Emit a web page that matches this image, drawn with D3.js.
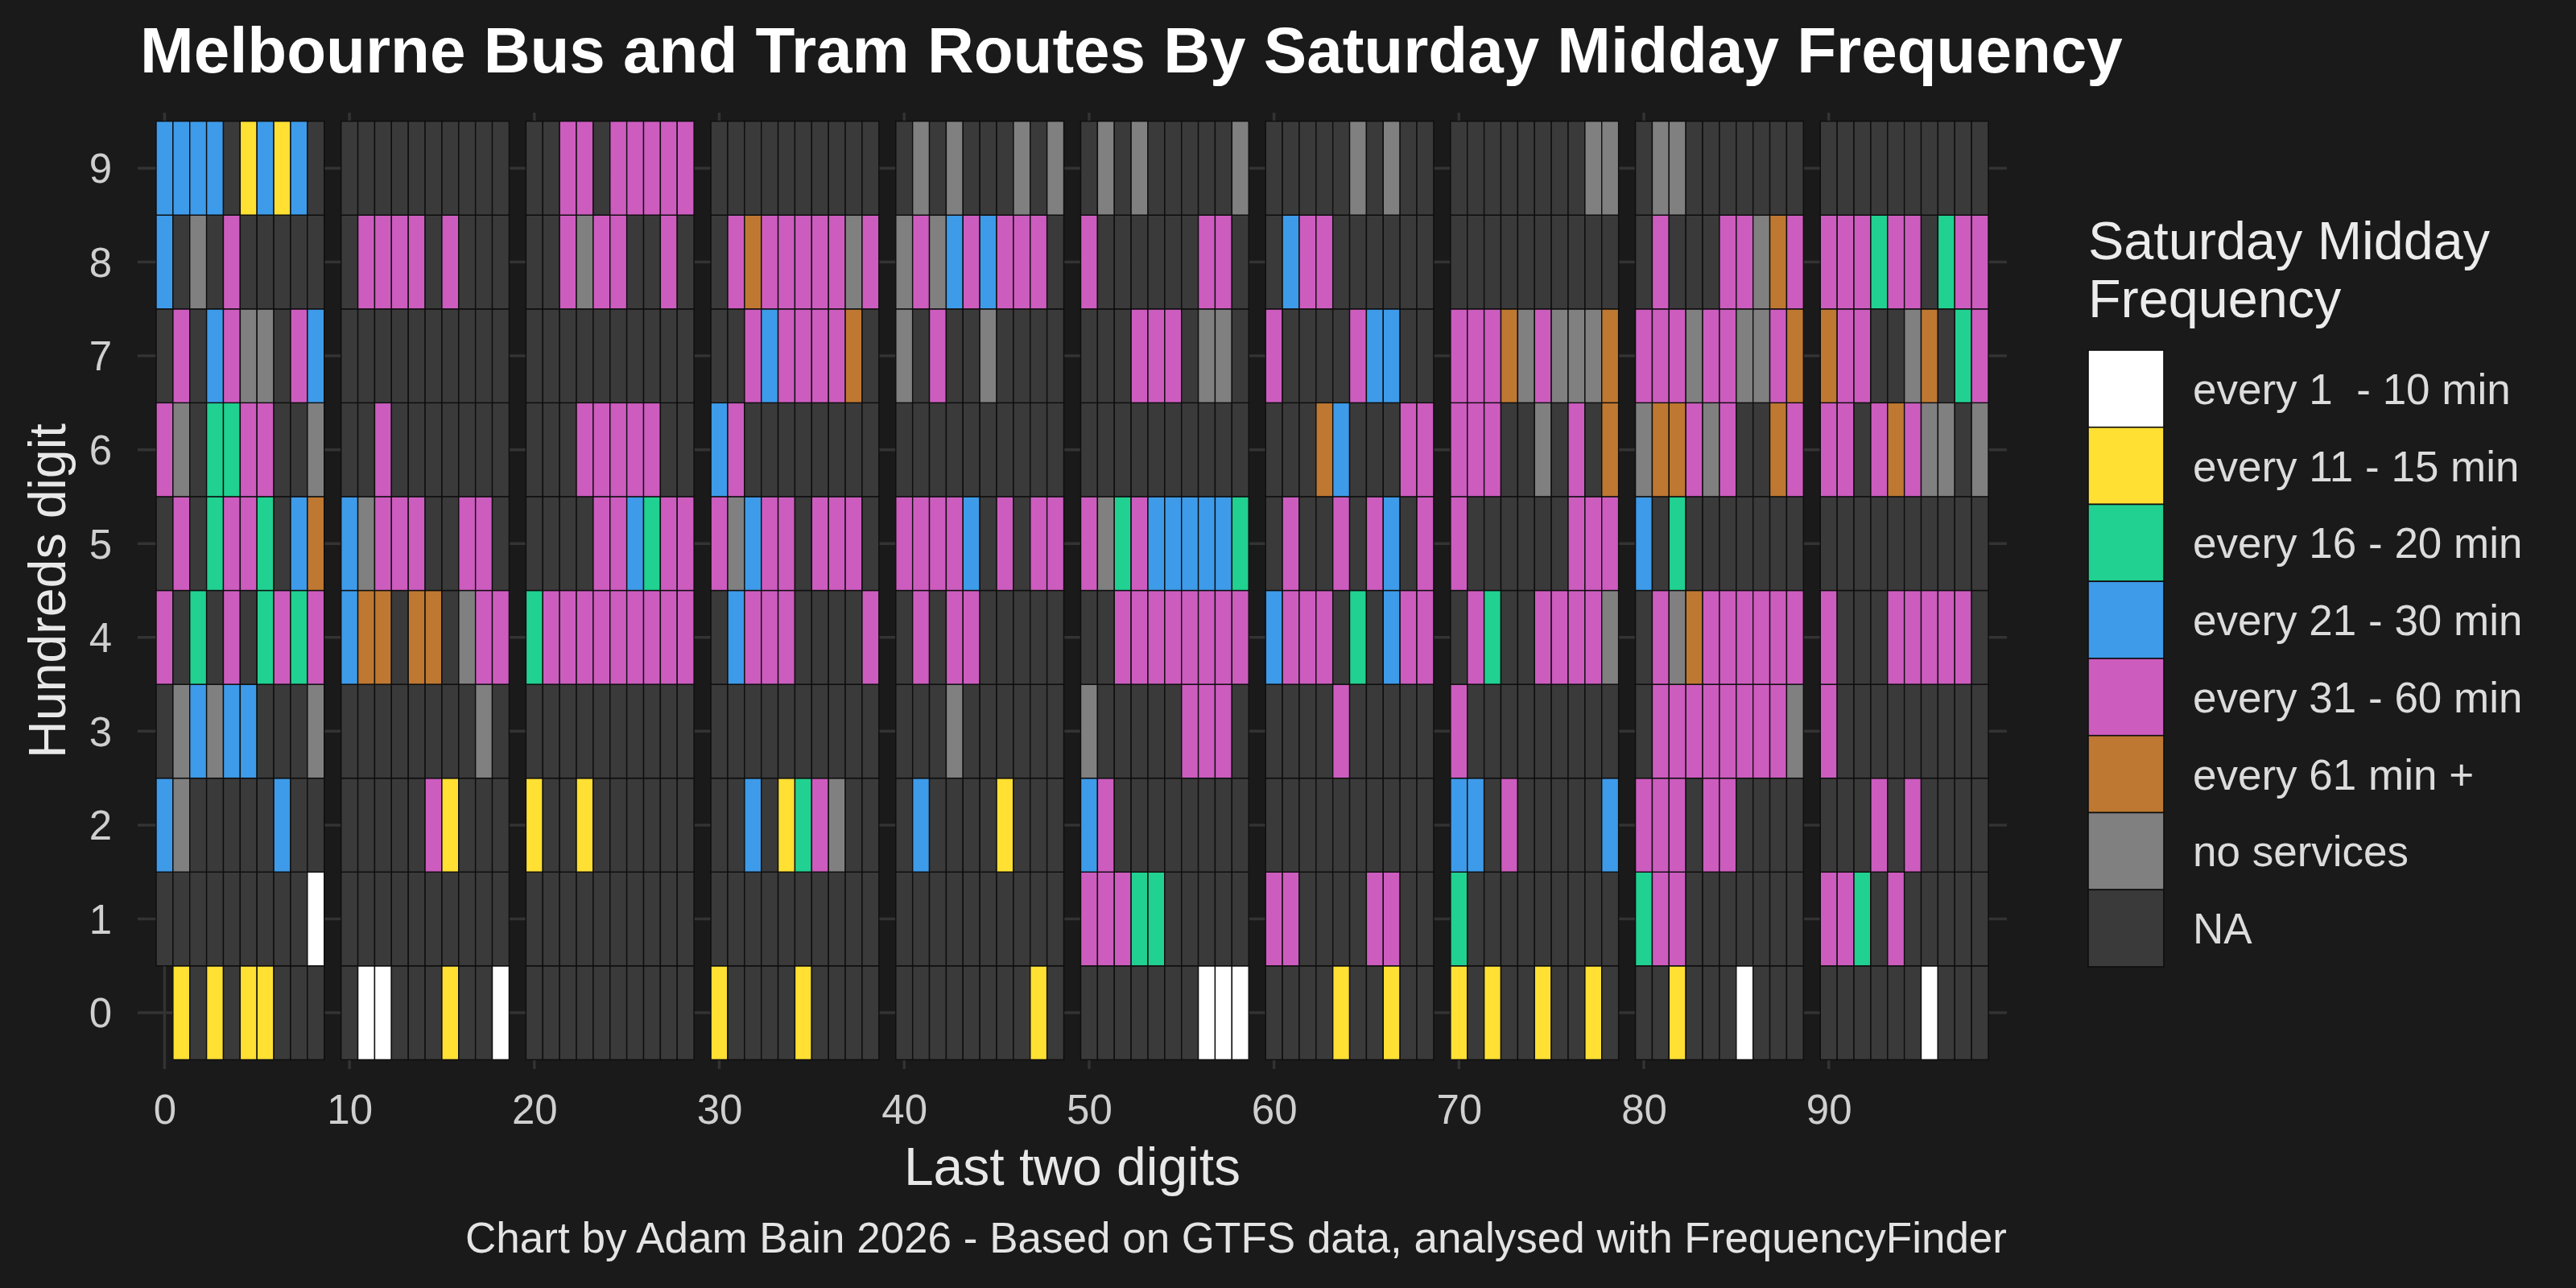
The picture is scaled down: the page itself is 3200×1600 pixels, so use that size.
<!DOCTYPE html>
<html>
<head>
<meta charset="utf-8">
<script src="https://cdn.jsdelivr.net/npm/d3@7"></script>
<style>
  html, body { margin: 0; padding: 0; background: #1a1a1a; }
  text { font-family: "Liberation Sans", Arial, Helvetica, sans-serif; }
</style>
</head>
<body>
<script>
// ---------------- DATA ----------------
// Category codes: W,Y,G,B,P,O,S,N ; "-" = no tile
const categories = ["W", "Y", "G", "B", "P", "O", "S", "N"];
const categoryLabels = [
  "every 1  - 10 min",
  "every 11 - 15 min",
  "every 16 - 20 min",
  "every 21 - 30 min",
  "every 31 - 60 min",
  "every 61 min +",
  "no services",
  "NA"
];
const categoryColors = ["#ffffff", "#ffe033", "#21d191", "#3d9be9", "#cd5cbf", "#bf7831", "#808080", "#3a3a3a"];

// One string per hundreds digit; 10 groups (tens digit 0..9) of 10 ones digits each
const hundreds9 = "BBBBNYBYBN NNNNNNNNNN NNPPNPPPPP NNNNNNNNNN NSNSNNNSNS NSNSNNNNNS NNNNNSNSNN NNNNNNNNSS NSSNNNNNNN NNNNNNNNNN";
const hundreds8 = "BNSNPNNNNN NPPPPNPNNN NNPSPPNNPN NPOPPPPPSP SPSBPBPPPN PNNNNNNPPN NBPPNNNNNN NNNNNNNNNN NPNNNPPSOP PPPGPPNGPP";
const hundreds7 = "NPNBPSSNPB NNNNNNNNNN NNNNNNNNNN NNPBPPPPON SNPNNSNNNN NNNPPPNSSN PNNNNPBBNN PPPOSPSSSO PPPSPPSSPO OPPNNSONGP";
const hundreds6 = "PSNGGPPNNS NNPNNNNNNN NNNPPPPPNN BPNNNNNNNN NNNNNNNNNN NNNNNNNNNN NNNOBNNNPP PPPNNSNPNO SOOPSPNNOP PPNPOPSSNS";
const hundreds5 = "NPNGPPGNBO BSPPPNNPPN NNNNPPBGPP PSBPPNPPPN PPPPBNPNPP PSGPBBBBBG NPNNPNPBNP PNNNNNNPPP BNGNNNNNNN NNNNNNNNNN";
const hundreds4 = "PNGNPNGPGP BOONOONSPP GPPPPPPPPP NBPPPNNNNP NPNPPNNNNN NNPPPPPPPP BPPPNGNBPP NPGNNPPPPS NPSOPPPPPP PNNNPPPPPN";
const hundreds3 = "NSBSBBNNNS NNNNNNNNSN NNNNNNNNNN NNNNNNNNNN NNNSNNNNNN SNNNNNPPPN NNNNPNNNNN PNNNNNNNNN NPPPPPPPPS PNNNNNNNNN";
const hundreds2 = "BSNNNNNBNN NNNNNPYNNN YNNYNNNNNN NNBNYGPSNN NBNNNNYNNN BPNNNNNNNN NNNNNNNNNN BBNPNNNNNB PPPNPPNNNN NNNPNPNNNN";
const hundreds1 = "NNNNNNNNNW NNNNNNNNNN NNNNNNNNNN NNNNNNNNNN NNNNNNNNNN PPPGGNNNNN PPNNNNPPNN GNNNNNNNNN GPPNNNNNNN PPGNPNNNNN";
const hundreds0 = "-YNYNYYNNN NWWNNNYNNW NNNNNNNNNN YNNNNYNNNN NNNNNNNNYN NNNNNNNWWW NNNNYNNYNN YNYNNYNNYN NNYNNNWNNN NNNNNNWNNN";

const hundredsRows = [hundreds0, hundreds1, hundreds2, hundreds3, hundreds4, hundreds5, hundreds6, hundreds7, hundreds8, hundreds9];
const hundredsDigits = [0, 1, 2, 3, 4, 5, 6, 7, 8, 9];
const tensDigits = [0, 1, 2, 3, 4, 5, 6, 7, 8, 9];
const onesDigits = [0, 1, 2, 3, 4, 5, 6, 7, 8, 9];
const xTickLabels = [0, 10, 20, 30, 40, 50, 60, 70, 80, 90];

const titleText = "Melbourne Bus and Tram Routes By Saturday Midday Frequency";
const xTitle = "Last two digits";
const yTitle = "Hundreds digit";
const legendTitle = ["Saturday Midday", "Frequency"];
const captionText = "Chart by Adam Bain 2026 - Based on GTFS data, analysed with FrequencyFinder";

// ---------------- BUILD CELLS ----------------
const cells = [];
hundredsDigits.forEach(h => {
  const groups = hundredsRows[h].split(" ");
  tensDigits.forEach(t => {
    onesDigits.forEach(o => {
      const code = groups[t][o];
      if (code !== "-") cells.push({ h, t, o, code, route: h * 100 + t * 10 + o });
    });
  });
});

// ---------------- LAYOUT ----------------
const W = 3200, H = 1600;
const panel = { left: 171, right: 2493, top: 140, bottom: 1328 };
const tileArea = { left: 194, right: 2470, top: 150.6, bottom: 1316.4 };

const svg = d3.select("body").append("svg")
  .attr("width", W).attr("height", H)
  .attr("viewBox", `0 0 ${W} ${H}`);

svg.append("rect").attr("width", W).attr("height", H).attr("fill", "#1a1a1a");

const xTens = d3.scaleBand().domain(tensDigits).range([tileArea.left, tileArea.right]).paddingInner(0.0914);
const xOnes = d3.scaleBand().domain(onesDigits).range([0, xTens.bandwidth()]);
const y = d3.scaleBand().domain(hundredsDigits.slice().reverse()).range([tileArea.top, tileArea.bottom]);
const color = d3.scaleOrdinal().domain(categories).range(categoryColors);

// tick positions: centre of the ones-digit 0 column of each tens group
const xTickScale = d3.scaleOrdinal()
  .domain(xTickLabels)
  .range(tensDigits.map(t => xTens(t) + xOnes(0) + xOnes.bandwidth() / 2));

const gridColor = "#333333";

// Gridlines
const grid = svg.append("g");
grid.selectAll("line.h").data(hundredsDigits).join("line")
  .attr("x1", panel.left).attr("x2", panel.right)
  .attr("y1", d => y(d) + y.bandwidth() / 2).attr("y2", d => y(d) + y.bandwidth() / 2)
  .attr("stroke", gridColor).attr("stroke-width", 3.5);
grid.selectAll("line.v").data(xTickLabels).join("line")
  .attr("x1", d => xTickScale(d)).attr("x2", d => xTickScale(d))
  .attr("y1", panel.top).attr("y2", panel.bottom)
  .attr("stroke", gridColor).attr("stroke-width", 3.5);

// Tiles
svg.append("g").selectAll("rect").data(cells).join("rect")
  .attr("x", d => xTens(d.t) + xOnes(d.o))
  .attr("y", d => y(d.h))
  .attr("width", xOnes.bandwidth())
  .attr("height", y.bandwidth())
  .attr("fill", d => color(d.code))
  .attr("stroke", "#0e0e0e")
  .attr("stroke-width", 1.4);

// Axes
const xAxis = d3.axisBottom(xTickScale).tickSize(0).tickPadding(0);
const gx = svg.append("g").attr("transform", `translate(0, ${panel.bottom})`).call(xAxis);
gx.select(".domain").remove();
gx.selectAll("text")
  .attr("y", 68).attr("dy", 0)
  .attr("fill", "#cfcfcf")
  .style("font-size", "51px");

const yAxis = d3.axisLeft(y).tickSize(0).tickPadding(0);
const gy = svg.append("g").attr("transform", `translate(139, 0)`).call(yAxis);
gy.select(".domain").remove();
gy.selectAll("text")
  .attr("x", 0).attr("dy", "0.36em")
  .attr("fill", "#cfcfcf")
  .style("font-size", "51px");

// Titles
svg.append("text")
  .attr("x", 174).attr("y", 90)
  .attr("fill", "#ffffff")
  .style("font-size", "80px").style("font-weight", "bold")
  .text(titleText);

svg.append("text")
  .attr("x", (panel.left + panel.right) / 2).attr("y", 1472)
  .attr("text-anchor", "middle")
  .attr("fill", "#e8e8e8")
  .style("font-size", "66px")
  .text(xTitle);

svg.append("text")
  .attr("transform", `translate(81, ${(panel.top + panel.bottom) / 2}) rotate(-90)`)
  .attr("text-anchor", "middle")
  .attr("fill", "#e8e8e8")
  .style("font-size", "64.5px")
  .text(yTitle);

svg.append("text")
  .attr("x", panel.right).attr("y", 1556)
  .attr("text-anchor", "end")
  .attr("fill", "#e4e4e4")
  .style("font-size", "53px")
  .text(captionText);

// Legend
const legend = svg.append("g");
legend.selectAll("text.lt").data(legendTitle).join("text")
  .attr("x", 2594).attr("y", (d, i) => 322 + i * 72)
  .attr("fill", "#ececec")
  .style("font-size", "66.5px")
  .text(d => d);

const keyY = d3.scaleBand().domain(categories).range([435, 1201]);
legend.selectAll("rect.key").data(categories).join("rect")
  .attr("x", 2594).attr("y", d => keyY(d))
  .attr("width", 94).attr("height", keyY.bandwidth())
  .attr("fill", d => color(d))
  .attr("stroke", "#0e0e0e").attr("stroke-width", 1.6);

legend.selectAll("text.kl").data(categories).join("text")
  .attr("x", 2724).attr("y", d => keyY(d) + keyY.bandwidth() / 2)
  .attr("dy", "0.36em")
  .attr("fill", "#dcdcdc")
  .style("font-size", "53px")
  .style("white-space", "pre")
  .text((d, i) => categoryLabels[i]);
</script>
</body>
</html>
